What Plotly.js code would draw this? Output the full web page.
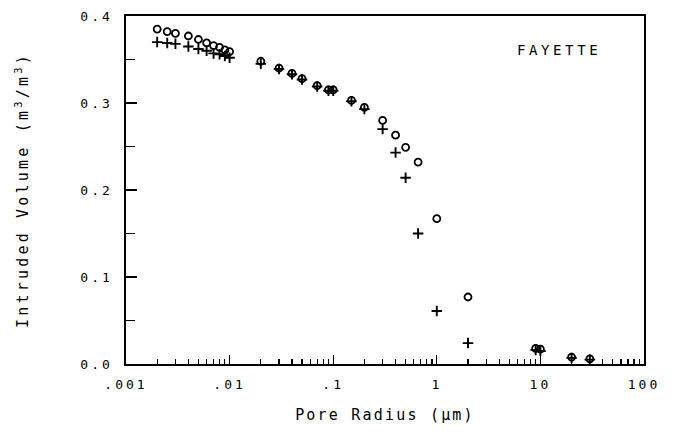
<!DOCTYPE html>
<html>
<head>
<meta charset="utf-8">
<script src="https://cdn.plot.ly/plotly-3.0.1.min.js"></script>
<style>
  html, body { margin: 0; padding: 0; background: #fff; }
  #chart { width: 675px; height: 443px; }
  .ytitle { letter-spacing: 3.2px; }
  .xtitle { letter-spacing: 2.2px; }
  .xtick text, .ytick text { letter-spacing: 3px; }
  .annotation-text { letter-spacing: 3.6px; }
</style>
</head>
<body>
<div id="chart"></div>
<script>
// Pore radius (micrometres)
const radius = [0.002, 0.0025, 0.003, 0.004, 0.005, 0.006, 0.007, 0.008, 0.009, 0.01,
                0.02, 0.03, 0.04, 0.05, 0.07, 0.09, 0.1, 0.15, 0.2, 0.3, 0.4, 0.5, 0.66,
                1, 2, 9, 10, 20, 30];
// Intruded volume, circles (m3/m3)
const volCircle = [0.385, 0.382, 0.380, 0.377, 0.373, 0.369, 0.366, 0.364, 0.361, 0.359,
                   0.348, 0.340, 0.334, 0.328, 0.320, 0.315, 0.315, 0.303, 0.295, 0.280, 0.263, 0.249, 0.232,
                   0.167, 0.077, 0.018, 0.017, 0.008, 0.006];
// Intruded volume, pluses (m3/m3)
const volPlus = [0.370, 0.369, 0.368, 0.365, 0.362, 0.360, 0.357, 0.356, 0.354, 0.352,
                 0.345, 0.339, 0.333, 0.327, 0.319, 0.314, 0.314, 0.302, 0.293, 0.270, 0.243, 0.214, 0.150,
                 0.061, 0.024, 0.016, 0.015, 0.007, 0.005];

const xTickVals = [0.001, 0.01, 0.1, 1, 10, 100];
const xTickText = ['.001', '.01', '.1', '1', '10', '100'];
const yTickVals = [0, 0.1, 0.2, 0.3, 0.4];
const yTickText = ['0.0', '0.1', '0.2', '0.3', '0.4'];

const xMinor = [];
for (let d = -3; d < 2; d++) {
  for (let m = 2; m <= 9; m++) xMinor.push(m * Math.pow(10, d));
}

const font = 'DejaVu Sans Mono, monospace';

const traces = [
  {
    x: radius, y: volCircle, type: 'scatter', mode: 'markers',
    marker: { symbol: 'circle-open', size: 7, color: '#000', line: { width: 1.8, color: '#000' } },
    hoverinfo: 'x+y'
  },
  {
    x: radius, y: volPlus, type: 'scatter', mode: 'markers',
    marker: { symbol: 'cross-thin-open', size: 7.5, color: '#000', line: { width: 1.9, color: '#000' } },
    hoverinfo: 'x+y'
  }
];

const layout = {
  width: 675, height: 443,
  margin: { l: 125.5, r: 31, t: 15.5, b: 79 },
  paper_bgcolor: '#fff', plot_bgcolor: '#fff',
  showlegend: false,
  font: { family: font, color: '#000', size: 13 },
  xaxis: {
    type: 'log', range: [-3, 2],
    tickmode: 'array', tickvals: xTickVals, ticktext: xTickText,
    ticks: 'inside', ticklen: 9, tickwidth: 1.3, tickcolor: '#000',
    minor: { tickmode: 'array', tickvals: xMinor, ticks: 'inside', ticklen: 5, tickwidth: 1.2, tickcolor: '#000' },
    showline: true, linecolor: '#000', linewidth: 1.6, mirror: true,
    showgrid: false, zeroline: false,
    ticklabelstandoff: 8,
    tickfont: { family: font, size: 13, color: '#000' },
    title: { text: 'Pore Radius (\u03bcm)', font: { family: font, size: 15, color: '#000' }, standoff: 18 }
  },
  yaxis: {
    range: [0, 0.4],
    tickmode: 'array', tickvals: yTickVals, ticktext: yTickText,
    ticks: 'inside', ticklen: 11, tickwidth: 1.3, tickcolor: '#000',
    minor: { dtick: 0.05, ticks: 'inside', ticklen: 9, tickwidth: 1.2, tickcolor: '#000' },
    showline: true, linecolor: '#000', linewidth: 1.6, mirror: true,
    showgrid: false, zeroline: false,
    ticklabelstandoff: 9,
    tickfont: { family: font, size: 13, color: '#000' },
    title: { text: 'Intruded Volume (m<sup>3</sup>/m<sup>3</sup>)', font: { family: font, size: 15, color: '#000' }, standoff: 48 }
  },
  annotations: [
    {
      xref: 'paper', yref: 'paper', x: 0.835, y: 0.902, xanchor: 'center', yanchor: 'middle',
      text: 'FAYETTE', showarrow: false, font: { family: font, size: 14, color: '#000' }
    }
  ]
};

Plotly.newPlot('chart', traces, layout, { displayModeBar: false, staticPlot: true });
</script>
</body>
</html>
